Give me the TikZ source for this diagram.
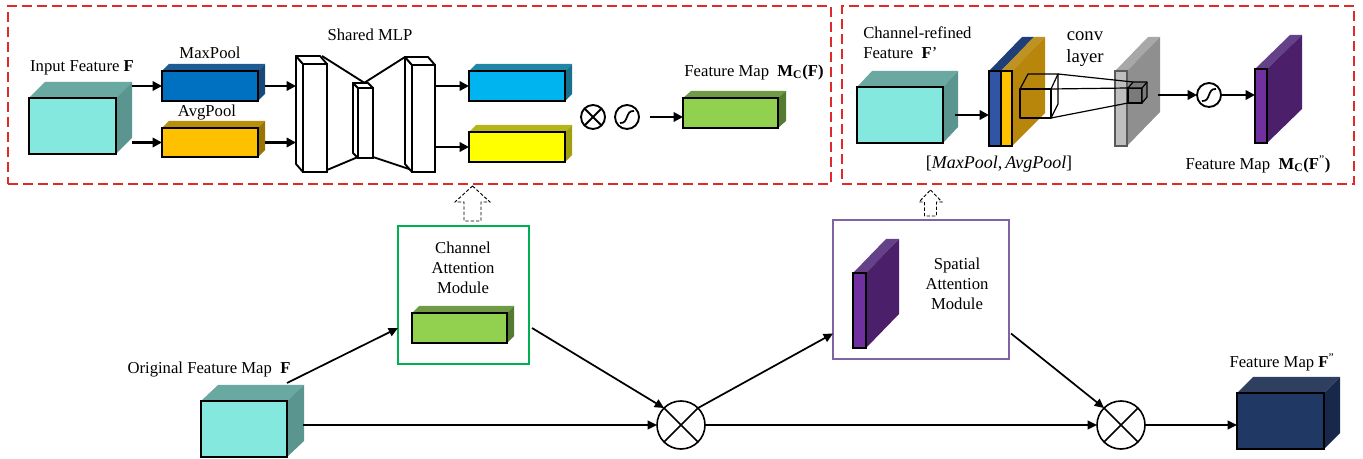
\documentclass[tikz,border=0pt]{standalone}
\usepackage{fontspec}
\setmainfont{Liberation Serif}
\usetikzlibrary{arrows.meta,calc}

% face colours: F = front, T = top, S = side
\definecolor{cyanF}{HTML}{85E8DE}
\definecolor{cyanT}{HTML}{6AA9A2}
\definecolor{cyanS}{HTML}{5A958F}
\definecolor{maxF}{HTML}{0070C0}
\definecolor{maxT}{HTML}{1F5C95}
\definecolor{maxS}{HTML}{174A7A}
\definecolor{avgF}{HTML}{FFC000}
\definecolor{avgT}{HTML}{B8900C}
\definecolor{avgS}{HTML}{997400}
\definecolor{skyF}{HTML}{00B4F0}
\definecolor{skyT}{HTML}{1F86A8}
\definecolor{skyS}{HTML}{18708F}
\definecolor{ylwF}{HTML}{FFFF00}
\definecolor{ylwT}{HTML}{B5B51C}
\definecolor{ylwS}{HTML}{A0A010}
\definecolor{grnF}{HTML}{92D050}
\definecolor{grnT}{HTML}{709A45}
\definecolor{grnS}{HTML}{557A32}
\definecolor{navF}{HTML}{203864}
\definecolor{navT}{HTML}{2E3F60}
\definecolor{navS}{HTML}{18284A}
\definecolor{purF}{HTML}{7030A0}
\definecolor{purT}{HTML}{65418A}
\definecolor{purS}{HTML}{4C1F6B}
\definecolor{gryF}{HTML}{BFBFBF}
\definecolor{gryT}{HTML}{A8A8A8}
\definecolor{gryS}{HTML}{8F8F8F}
\definecolor{poolBlue}{HTML}{2F55A4}
\definecolor{poolBlueT}{HTML}{203E7A}
\definecolor{gold}{HTML}{B8860B}
\definecolor{goldT}{HTML}{BE9321}
\definecolor{frameRed}{HTML}{E02A2A}
\definecolor{camGreen}{HTML}{00B050}
\definecolor{samPurple}{HTML}{8064A2}

% #1 name, (#2,#3) front top-left, (#4,#5) front bottom-right,
% #6/#7 depth to the right / upwards, #8 colour set, #9 extra front options
\newcommand\drawcuboid[9]{%
  \fill[#8T] (#2,#3) -- (#2+#6,#3-#7) -- (#4+#6,#3-#7) -- (#4,#3) -- cycle;
  \fill[#8S] (#4,#3) -- (#4+#6,#3-#7) -- (#4+#6,#5-#7) -- (#4,#5) -- cycle;
  \node[frontface, fill=#8F, #9, minimum width={(#4-#2)*0.75pt},
        minimum height={(#5-#3)*0.75pt}] (#1) at ({(#2+#4)/2},{(#3+#5)/2}) {};
}

\begin{document}
\begin{tikzpicture}[x=0.75pt, y=-0.75pt,
  frontface/.style={draw=black, line width=1.2pt, inner sep=0pt, outer sep=0pt},
  lbl/.style={font=\fontsize{12.5}{15}\selectfont, align=center, inner sep=0pt},
  arr/.style={-{Triangle[length=7pt,width=7pt]}, line width=1.7pt},
  arrB/.style={-{Triangle[length=7pt,width=6.5pt]}, line width=1.3pt},
  opc/.style={circle, draw=black, line width=1.4pt, inner sep=0pt, outer sep=0pt},
  redframe/.style={draw=frameRed, line width=1.1pt, dash pattern=on 7.5pt off 3.75pt,
                   inner sep=0pt, outer sep=0pt},
  hollow/.style={draw=black, line width=0.7pt, dash pattern=on 2.5pt off 1.5pt},
  mlpline/.style={draw=black, line width=1.4pt, line join=round},
  thin/.style={draw=black, line width=0.9pt, line join=round}]

\useasboundingbox (0,0) rectangle (1363,459);

% ---------------- channel attention detail ----------------
\node[redframe, minimum width={823*0.75pt}, minimum height={178*0.75pt}] (camFrame) at (419.5,95) {};

\node[lbl] (tInF) at (82,68) {Input Feature \textbf{F}};
\drawcuboid{inF}{29}{98}{116}{154}{16}{16}{cyan}{}

\node[lbl] (tMax) at (210,53) {MaxPool};
\drawcuboid{mp}{162}{71}{258}{101}{7}{7}{max}{}
\node[lbl] (tAvg) at (207,113) {AvgPool};
\drawcuboid{ap}{162}{128}{258}{157}{7}{7}{avg}{}

\draw[arr] (mp.west -| inF.east) ++(16,0) -- (mp.west);
\draw[arr] (ap.west -| inF.east) ++(16,0) -- (ap.west);

% shared MLP
\node[lbl] (tMLP) at (370,35) {Shared MLP};
\draw[mlpline] (322,56) -- (371,87);
\draw[mlpline] (405,57) -- (364,83);
\draw[mlpline] (327,170) -- (358,157);
\draw[mlpline] (412,170) -- (373,157);
\filldraw[mlpline, fill=white] (303,64) -- (296,56) -- (296,164) -- (303,172);
\filldraw[mlpline, fill=white] (303,64) -- (296,56) -- (320,56) -- (327,64);
\node[frontface, line width=1.4pt, fill=white, minimum width={24*0.75pt}, minimum height={108*0.75pt}] (mlpL) at (315,118) {};
\filldraw[mlpline, fill=white] (358,88) -- (353,83) -- (353,153) -- (358,158);
\filldraw[mlpline, fill=white] (358,88) -- (353,83) -- (368,83) -- (373,88);
\node[frontface, line width=1.4pt, fill=white, minimum width={15*0.75pt}, minimum height={70*0.75pt}] (mlpM) at (365.5,123) {};
\filldraw[mlpline, fill=white] (412,65) -- (405,57) -- (405,164) -- (412,172);
\filldraw[mlpline, fill=white] (412,65) -- (405,57) -- (428,57) -- (435,65);
\node[frontface, line width=1.4pt, fill=white, minimum width={23*0.75pt}, minimum height={107*0.75pt}] (mlpR) at (423.5,118.5) {};

\draw[arr] (mp.east) ++(7,0) -- ($(mp.east -| mlpL.west)+(-7,0)$);
\draw[arr] (ap.east) ++(7,0) -- ($(ap.east -| mlpL.west)+(-7,0)$);

\drawcuboid{sky}{469}{71}{565}{101}{7}{7}{sky}{}
\drawcuboid{ylw}{469}{132}{565}{162}{7}{7}{ylw}{}
\draw[arr] (sky.west -| mlpR.east) -- (sky.west);
\draw[arr] (ylw.west -| mlpR.east) -- (ylw.west);

% multiply and sigmoid
\node[opc, minimum size=18pt] (mulC) at (593,117) {};
\draw[line width=1.4pt] (mulC.north west) -- (mulC.south east) (mulC.north east) -- (mulC.south west);
\node[opc, minimum size=18pt] (sigC) at (627,117) {};
\draw[line width=1.3pt] ($(sigC.center)+(-7,6)$) .. controls ($(sigC.center)+(2,7)$) and ($(sigC.center)+(-2,-7)$) .. ($(sigC.center)+(7,-6)$);

\node[lbl] (tMc) at (754,72) {Feature Map~~\textbf{M\textsubscript{C}(F)}};
\drawcuboid{mcF}{683}{98}{778}{128}{8}{7}{grn}{}
\draw[arr] (sigC.east) ++(11,0) -- (mcF.west |- sigC.east);

% ---------------- spatial attention detail ----------------
\node[redframe, minimum width={512*0.75pt}, minimum height={178*0.75pt}] (samFrame) at (1098,95) {};

\node[lbl, align=left, anchor=west] (tRef) at (863,43) {Channel-refined\\Feature~~\textbf{F}’};
\drawcuboid{refMap}{857}{87}{943}{143}{15}{16}{cyan}{}

% pooled maps stacked into one slab
\fill[poolBlueT] (989,71) -- (1022,37) -- (1034,37) -- (1001,71) -- cycle;
\fill[goldT] (1001,71) -- (1034,37) -- (1045,37) -- (1012,71) -- cycle;
\fill[gold] (1012,71) -- (1045,37) -- (1045,113) -- (1012,146) -- cycle;
\node[frontface, fill=poolBlue, minimum width={12*0.75pt}, minimum height={75*0.75pt}] (poolMax) at (995,108.5) {};
\node[frontface, fill=avgF, minimum width={11*0.75pt}, minimum height={75*0.75pt}] (poolAvg) at (1006.5,108.5) {};
\node[lbl, font=\fontsize{13.5}{16}\selectfont] (tPool) at (999,164) {[\textit{MaxPool},\,\textit{AvgPool}]};

\draw[arr] (refMap.east) ++(12,0) -- (poolMax.west |- refMap.east);

% conv layer output slab
\drawcuboid{convS}{1115}{71}{1127}{146}{33}{34}{gry}{draw=gray!70!black, line width=0.8pt}
\node[lbl, font=\fontsize{14}{16.5}\selectfont] (tConv) at (1085,49) {conv\\layer};

% convolution kernel and its receptive output
\node[thin, draw, inner sep=0pt, outer sep=0pt, minimum width={31*0.75pt}, minimum height={29*0.75pt}] (kern) at (1035.5,103.5) {};
\coordinate (kernBack) at (1058,74);
\draw[thin] (kern.north west) -- (1028,74) -- (kernBack) -- (kern.north east);
\draw[thin] (kernBack) -- (1058,104) -- (kern.south east);
\node[thin, draw, fill=gryS!85!black, inner sep=0pt, outer sep=0pt, minimum width={14*0.75pt}, minimum height={15*0.75pt}] (kernOut) at (1135,95.5) {};
\coordinate (kernOutBack) at (1133,82);
\draw[thin, fill=gryS!85!black] (kernOut.north west) -- (kernOutBack) -- (1147,82) -- (1147,97) -- (kernOut.south east) -- (kernOut.north east) -- cycle;
\draw[thin] (kernOut.north east) -- (1147,82);
\draw[thin] (kernBack) -- (kernOutBack);
\draw[thin] (kern.north east) -- (kernOut.north west);
\draw[thin] (kern.south east) -- (kernOut.south west);

\node[opc, minimum size=18pt] (sigS) at (1209,95) {};
\draw[line width=1.3pt] ($(sigS.center)+(-7,6)$) .. controls ($(sigS.center)+(2,7)$) and ($(sigS.center)+(-2,-7)$) .. ($(sigS.center)+(7,-6)$);
\draw[arr] (sigS.west -| convS.east) ++(31,0) -- (sigS.west);

\drawcuboid{msF}{1255}{69}{1267}{143}{35}{34}{pur}{}
\draw[arr] (sigS.east) -- (msF.west |- sigS.east);
\node[lbl] (tMs) at (1258,164) {Feature Map~~\textbf{M\textsubscript{C}(F}\textsuperscript{”}\textbf{)}};

% ---------------- overall pipeline ----------------
\node[draw=camGreen, line width=1.5pt, inner sep=0pt, outer sep=0pt, minimum width={131*0.75pt}, minimum height={138*0.75pt}] (cam) at (463.5,295) {};
\node[lbl] (tCam) at (463,268) {Channel\\Attention\\Module};
\drawcuboid{camMap}{412}{313}{507}{343}{7}{7}{grn}{}

\node[draw=samPurple, line width=1.5pt, inner sep=0pt, outer sep=0pt, minimum width={176*0.75pt}, minimum height={139*0.75pt}] (sam) at (921,289.5) {};
\node[lbl] (tSam) at (957,284) {Spatial\\Attention\\Module};
\drawcuboid{samMap}{853}{273}{866}{348}{33}{34}{pur}{}

% hollow pointers up to the detail panels
\draw[hollow, shift={(cam.north)}] (9,-40) -- (26.5,-24) -- (17.5,-24) -- (17.5,-5) -- (0.5,-5) -- (0.5,-24) -- (-8.5,-24) -- cycle;
\draw[hollow, shift={(sam.north)}] (9.5,-30) -- (21,-18) -- (15.5,-18) -- (15.5,-4) -- (3.5,-4) -- (3.5,-18) -- (-2,-18) -- cycle;

\node[lbl] (tOrig) at (209,370) {Original Feature Map~~\textbf{F}};
\drawcuboid{inMap}{201}{401}{287}{457}{17}{16}{cyan}{}

\node[opc, line width=1.2pt, minimum size=36pt] (mulA) at (681,425) {};
\draw[line width=1.2pt] (mulA.north west) -- (mulA.south east) (mulA.north east) -- (mulA.south west);
\node[opc, line width=1.2pt, minimum size=36pt] (mulB) at (1121,425) {};
\draw[line width=1.2pt] (mulB.north west) -- (mulB.south east) (mulB.north east) -- (mulB.south west);

\node[lbl] (tOut) at (1282,362) {Feature Map \textbf{F}\textsuperscript{”}};
\drawcuboid{outMap}{1237}{393}{1324}{449}{16}{16}{nav}{}

\draw[arrB] (inMap.north east) ++(0,-18) -- ([yshift=-24.75pt]cam.west);
\draw[arrB] ([yshift=-24.75pt]cam.east) ++(3,0) -- (mulA.north west);
\draw[arrB] (mulA.west -| inMap.east) ++(16,0) -- (mulA.west);
\draw[arrB] (mulA.east) -- (mulB.west);
\draw[arrB] (mulA.north east) -- ([yshift=-33pt]sam.west);
\draw[arrB] ([yshift=-33pt]sam.east) ++(2,0) -- (mulB.north west);
\draw[arrB] (mulB.east) -- (outMap.west |- mulB.east);

\end{tikzpicture}
\end{document}
